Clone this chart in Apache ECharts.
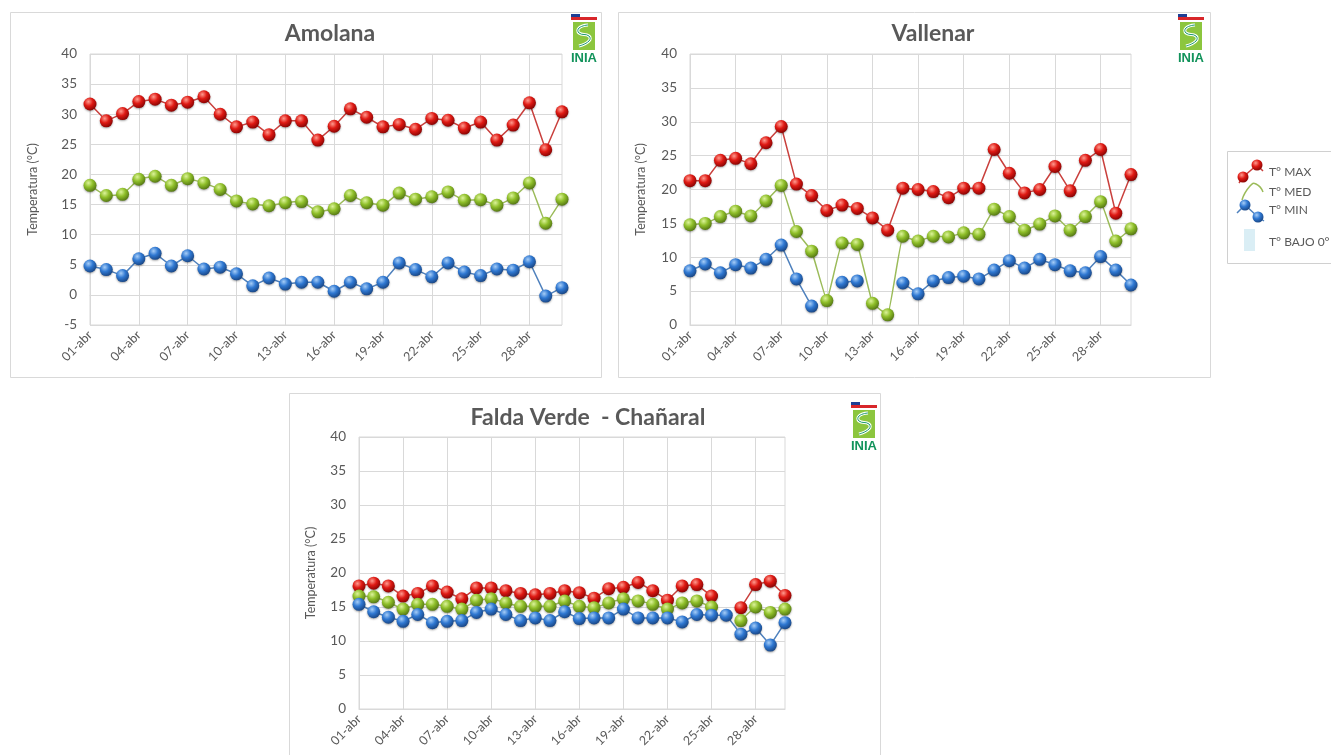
<!DOCTYPE html>
<html>
<head>
<meta charset="utf-8">
<script src="https://cdn.jsdelivr.net/npm/echarts@6/dist/echarts.min.js"></script>
<style>
html,body{margin:0;padding:0;background:#fff;}
#chart{width:1331px;height:755px;}
</style>
</head>
<body>
<div id="chart"></div>
<script>
// ---- data ----
const days = ['01-abr','02-abr','03-abr','04-abr','05-abr','06-abr','07-abr','08-abr','09-abr','10-abr',
  '11-abr','12-abr','13-abr','14-abr','15-abr','16-abr','17-abr','18-abr','19-abr','20-abr',
  '21-abr','22-abr','23-abr','24-abr','25-abr','26-abr','27-abr','28-abr','29-abr','30-abr'];

const amolanaMax = [31.7,28.9,30.1,32.1,32.5,31.5,32.0,32.9,30.0,27.9,28.7,26.6,28.9,28.9,25.7,28.0,30.9,29.5,27.9,28.3,27.5,29.3,29.0,27.7,28.7,25.7,28.2,31.9,24.1,30.4];
const amolanaMed = [18.2,16.5,16.7,19.2,19.7,18.2,19.3,18.6,17.5,15.6,15.1,14.8,15.3,15.5,13.8,14.3,16.5,15.3,14.9,16.9,15.9,16.3,17.1,15.7,15.8,14.9,16.1,18.6,11.9,15.9];
const amolanaMin = [4.8,4.2,3.2,6.0,6.9,4.8,6.5,4.3,4.6,3.5,1.5,2.8,1.8,2.1,2.1,0.6,2.1,1.0,2.1,5.3,4.2,3.0,5.3,3.8,3.2,4.3,4.1,5.5,-0.2,1.2];

const vallenarMax = [21.3,21.3,24.3,24.6,23.8,26.9,29.3,20.8,19.1,16.9,17.7,17.2,15.8,14.0,20.2,20.0,19.7,18.8,20.2,20.2,25.9,22.4,19.5,20.0,23.4,19.8,24.3,25.9,16.5,22.2];
const vallenarMed = [14.8,15.0,16.0,16.8,16.1,18.3,20.6,13.8,10.9,3.6,12.1,11.9,3.2,1.5,13.1,12.4,13.1,13.0,13.6,13.4,17.1,16.0,14.0,14.9,16.1,14.0,16.0,18.2,12.4,14.2];
const vallenarMin = [8.0,9.0,7.7,8.9,8.4,9.7,11.8,6.8,2.8,null,6.3,6.5,null,null,6.2,4.6,6.5,7.0,7.2,6.8,8.1,9.5,8.4,9.7,8.9,8.0,7.7,10.1,8.1,5.9];

const faldaMax = [18.1,18.5,18.1,16.6,17.0,18.1,17.2,16.2,17.8,17.8,17.4,17.0,16.8,17.0,17.4,17.1,16.3,17.7,17.9,18.6,17.4,16.0,18.1,18.3,16.6,null,14.9,18.3,18.8,16.7];
const faldaMed = [16.6,16.5,15.7,14.7,15.4,15.4,15.1,14.7,16.0,16.2,15.6,15.1,15.1,15.1,15.9,15.1,14.9,15.6,16.2,15.9,15.4,14.7,15.6,15.9,15.0,null,13.0,15.0,14.2,14.7];
const faldaMin = [15.4,14.3,13.5,12.9,13.9,12.7,12.9,13.0,14.2,14.7,13.9,13.0,13.4,13.0,14.3,13.3,13.4,13.4,14.7,13.4,13.4,13.4,12.8,13.9,13.8,13.8,11.0,11.9,9.4,12.7];

const seriesNames = ['T° MAX','T° MED','T° MIN','T° BAJO 0°'];
const panelTitles = ['Amolana','Vallenar','Falda Verde  - Chañaral'];
const yAxisTitle = 'Temperatura (°C)';

// ---- styling ----
const FONT = 'Lato, "Open Sans", sans-serif';
const TXT = '#595959';
const GRID = '#d9d9d9';
function sphere(c0, c1, c2){
  return {type:'radial', x:0.38, y:0.32, r:0.75,
    colorStops:[{offset:0,color:c0},{offset:0.45,color:c1},{offset:1,color:c2}]};
}
const styles = [
  {line:'#c9403d', ball:sphere('#ff9a8e','#df1a14','#7d0000')},
  {line:'#9bbb59', ball:sphere('#dcf39a','#8fbf2a','#4d6e10')},
  {line:'#4f81bd', ball:sphere('#a6cdf7','#2f78d2','#163f7a')}
];

const grids = [
  {left:90, right:1331-562, top:54, bottom:755-325},
  {left:690, right:1331-1131, top:54, bottom:755-325},
  {left:359, right:1331-785, top:437, bottom:755-709}
];
const yMins = [-5,0,0];
const nameGaps = [51,43,42];

const xAxes = grids.map((g,i)=>({
  type:'category', gridIndex:i, data:days, boundaryGap:false,
  axisLine:{show:true, lineStyle:{color:GRID}},
  axisTick:{show:false},
  axisLabel:{interval:2, rotate:45, color:TXT, fontSize:12.5, fontFamily:FONT, margin:8},
  splitLine:{show:true, interval:2, lineStyle:{color:GRID}}
}));
const yAxes = grids.map((g,i)=>({
  type:'value', gridIndex:i, min:yMins[i], max:40, interval:5,
  name:yAxisTitle, nameLocation:'middle', nameRotate:90, nameGap:nameGaps[i],
  nameTextStyle:{color:TXT, fontSize:12.5, fontFamily:FONT},
  axisLine:{show:false}, axisTick:{show:false},
  axisLabel:{color:TXT, fontSize:13.5, fontFamily:FONT, margin:13},
  splitLine:{show:true, lineStyle:{color:GRID}}
}));

const dataSets = [
  [amolanaMax, amolanaMed, amolanaMin],
  [vallenarMax, vallenarMed, vallenarMin],
  [faldaMax, faldaMed, faldaMin]
];
const series = [];
dataSets.forEach((set,gi)=>{
  set.forEach((arr,si)=>{
    series.push({
      name:seriesNames[si], type:'line', xAxisIndex:gi, yAxisIndex:gi,
      data:arr, smooth: si===1 ? 0.08 : false,
      symbol:'circle', symbolSize:13, showAllSymbol:true,
      lineStyle:{color:styles[si].line, width:1.5},
      itemStyle:{color:styles[si].ball, shadowBlur:2, shadowColor:'rgba(0,0,0,0.35)', shadowOffsetY:1},
      z: 3+si, animation:false
    });
  });
});

// ---- decorations (panels, titles, logos, legend) ----
const graphic = [];
const panels = [[10,12,591,365],[618,12,592,365],[289,393,591,370]];
panels.forEach(p=>graphic.push({type:'rect', z:-10, shape:{x:p[0]+0.5,y:p[1]+0.5,width:p[2],height:p[3]},
  style:{fill:'#fff', stroke:GRID, lineWidth:1}}));
const titlePos = [[330,34],[933,34],[588,418]];
panelTitles.forEach((t,i)=>graphic.push({type:'text', x:titlePos[i][0], y:titlePos[i][1],
  style:{text:t, fill:TXT, font:'bold 23px '+FONT, textAlign:'center', textVerticalAlign:'middle'}}));

function logo(x,y){
  graphic.push({type:'rect', shape:{x:x,y:y,width:26,height:3}, style:{fill:'#1d3f95'}});
  graphic.push({type:'rect', shape:{x:x+9,y:y,width:17,height:3}, style:{fill:'#ffffff'}});
  graphic.push({type:'rect', shape:{x:x,y:y+3,width:26,height:3}, style:{fill:'#d8262a'}});
  graphic.push({type:'rect', shape:{x:x+2,y:y+8,width:22,height:28}, style:{fill:'#8cc63e'}});
  graphic.push({type:'polyline', shape:{points:[[x+17,y+11],[x+8,y+14],[x+8,y+19],[x+18,y+22],[x+18,y+27],[x+8,y+32]], smooth:0.5},
    style:{stroke:'#ffffff', lineWidth:3, fill:null}});
  graphic.push({type:'polyline', shape:{points:[[x+17,y+11],[x+8,y+14],[x+8,y+19],[x+18,y+22],[x+18,y+27],[x+8,y+32]], smooth:0.5},
    style:{stroke:'#1a9a6c', lineWidth:1, fill:null}});
  graphic.push({type:'text', x:x+13, y:y+44, style:{text:'INIA', fill:'#12935b', font:'bold 13px "Liberation Sans Narrow","Liberation Sans",sans-serif', textAlign:'center', textVerticalAlign:'middle'}});
}
logo(571,14); logo(1178,14); logo(851,402);

// legend box
graphic.push({type:'rect', shape:{x:1227.5,y:151.5,width:110,height:112}, style:{fill:'#fff', stroke:'#d0d0d0', lineWidth:1}});
function ball(cx,cy,st){ graphic.push({type:'circle', shape:{cx:cx,cy:cy,r:5.5}, style:{fill:st.ball}}); }
graphic.push({type:'polyline', shape:{points:[[1239,183],[1243,177],[1257,165],[1263,171]]}, style:{stroke:styles[0].line, lineWidth:1.5, fill:null}});
ball(1243,177,styles[0]); ball(1257,165,styles[0]);
graphic.push({type:'polyline', shape:{points:[[1242,200],[1250,186],[1256,184],[1263,192]], smooth:0.6}, style:{stroke:styles[1].line, lineWidth:1.5, fill:null}});
graphic.push({type:'polyline', shape:{points:[[1237,213],[1245,205],[1258,217],[1264,221]]}, style:{stroke:styles[2].line, lineWidth:1.5, fill:null}});
ball(1245,205,styles[2]); ball(1258,217,styles[2]);
graphic.push({type:'rect', shape:{x:1244,y:229,width:11,height:22}, style:{fill:'#daeef5'}});
const legY = [172,192,210,242];
seriesNames.forEach((n,i)=>graphic.push({type:'text', x:1269, y:legY[i],
  style:{text:n, fill:TXT, font:'12px '+FONT, textVerticalAlign:'middle'}}));

const chart = echarts.init(document.getElementById('chart'), null, {renderer:'canvas'});
chart.setOption({
  animation:false,
  backgroundColor:'#fff',
  grid: grids.map(g=>Object.assign({show:true, borderColor:GRID, borderWidth:1, backgroundColor:'transparent'}, g)),
  xAxis:xAxes, yAxis:yAxes, series:series, graphic:graphic
});
</script>
</body>
</html>
